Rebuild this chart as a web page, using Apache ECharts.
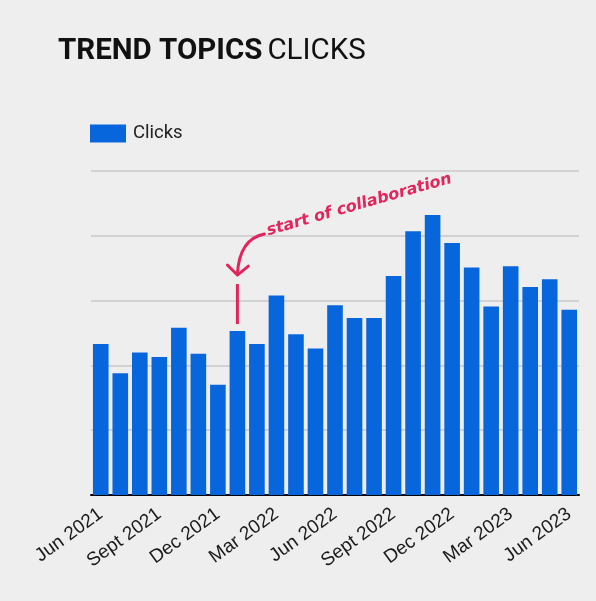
<!DOCTYPE html>
<html><head><meta charset="utf-8">
<script src="https://cdn.jsdelivr.net/npm/echarts@6/dist/echarts.min.js"></script>
<style>html,body{margin:0;padding:0;background:#eeeeee}#c{width:596px;height:601px}</style>
</head><body><div id="c"></div>
<script>
const months = ['Jun 2021','Jul 2021','Aug 2021','Sept 2021','Oct 2021','Nov 2021','Dec 2021','Jan 2022','Feb 2022','Mar 2022','Apr 2022','May 2022','Jun 2022','Jul 2022','Aug 2022','Sept 2022','Oct 2022','Nov 2022','Dec 2022','Jan 2023','Feb 2023','Mar 2023','Apr 2023','May 2023','Jun 2023'];
const clicks = [2.33,1.88,2.20,2.13,2.58,2.18,1.70,2.53,2.33,3.08,2.48,2.26,2.93,2.73,2.73,3.38,4.07,4.32,3.89,3.51,2.91,3.53,3.21,3.33,2.86];
const annotationText = 'start of collaboration';
const annotationIndex = 7;

const chart = echarts.init(document.getElementById('c'));
chart.setOption({
  backgroundColor: '#eeeeee',
  animation: false,
  title: {
    left: 53, top: 32,
    text: '{b|TREND TOPICS} {n|CLICKS}',
    textStyle: { rich: {
      b: { fontFamily: 'Roboto', fontWeight: 'bold', fontSize: 29.5, color: '#111' },
      n: { fontFamily: 'Roboto', fontWeight: 'normal', fontSize: 29.5, color: '#111' }
    }}
  },
  legend: {
    left: 85, top: 119, itemWidth: 36, itemHeight: 18, icon: 'rect',
    textStyle: { fontFamily: 'Roboto', fontSize: 18.5, color: '#222', padding: [0,0,0,2] },
    data: ['Clicks']
  },
  grid: { left: 91, right: 17, top: 171, bottom: 106 },
  xAxis: {
    type: 'category', data: months,
    axisTick: { show: false },
    axisLine: { lineStyle: { color: '#000', width: 2 } },
    axisLabel: { interval: 2, rotate: 36, margin: 17, fontFamily: 'Liberation Sans', fontSize: 19, color: '#1a1a1a' }
  },
  yAxis: {
    type: 'value', min: 0, max: 5, interval: 1,
    axisLabel: { show: false }, axisLine: { show: false }, axisTick: { show: false },
    splitLine: { lineStyle: { color: '#c8c8c8', width: 1.5 } }
  },
  series: [{
    name: 'Clicks', type: 'bar', data: clicks, barCategoryGap: '20%',
    itemStyle: { color: '#0866dd' }
  }]
});

const barTop = chart.convertToPixel({ seriesIndex: 0 }, [annotationIndex, clicks[annotationIndex]]);
const cx = barTop[0], cy = barTop[1];
const red = '#e0265c';
chart.setOption({
  graphic: [
    { type: 'line', shape: { x1: cx, y1: cy - 47, x2: cx, y2: cy - 7 }, style: { stroke: red, lineWidth: 3 } },
    { type: 'bezierCurve', shape: { x1: cx + 27, y1: cy - 97, cpx1: cx + 2, cpy1: cy - 92, x2: cx, y2: cy - 57 }, style: { stroke: red, lineWidth: 3, fill: null, lineCap: 'round' } },
    { type: 'polyline', shape: { points: [[cx - 10, cy - 66], [cx, cy - 56], [cx + 11, cy - 65]] }, style: { stroke: red, lineWidth: 3, fill: null, lineCap: 'round', lineJoin: 'round' } },
    { type: 'text', x: cx + 32, y: cy - 92, rotation: 16 * Math.PI / 180,
      style: { text: annotationText, fill: red, font: 'italic bold 16px "DejaVu Sans"', textVerticalAlign: 'bottom' } }
  ]
});
</script></body></html>
